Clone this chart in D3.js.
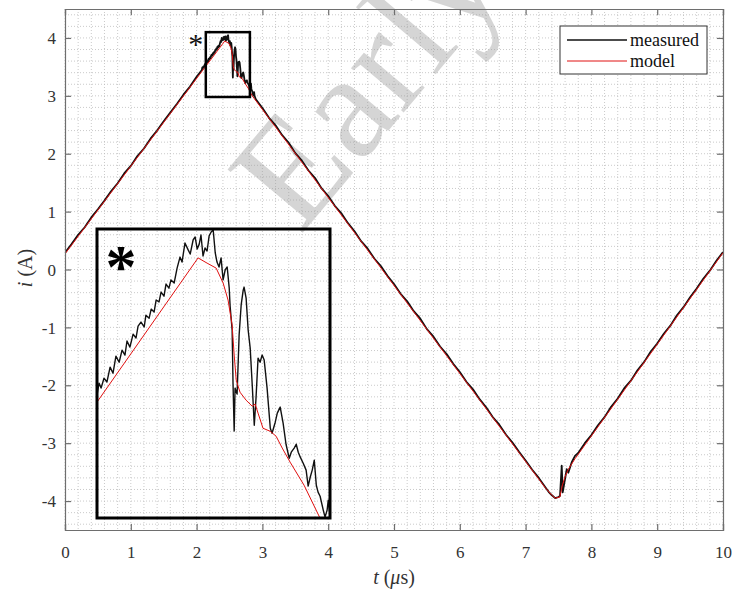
<!DOCTYPE html>
<html>
<head>
<meta charset="utf-8">
<script src="https://cdn.jsdelivr.net/npm/d3@7"></script>
<style>
  body { margin: 0; background: #fff; }
  svg { display: block; }
  svg text { font-family: 'Liberation Serif', 'Times New Roman', serif; }
</style>
</head>
<body>
<svg id="chart" width="733" height="591"></svg>
<script>
'use strict'

const xTicks = [0, 1, 2, 3, 4, 5, 6, 7, 8, 9, 10];
const yTicks = [-4, -3, -2, -1, 0, 1, 2, 3, 4];
const xDomain = [0, 10];
const yDomain = [-4.5, 4.5];

const seriesNames = ['measured', 'model'];
const seriesColors = ['#111111', '#e01010'];

// measured current, t in us, i in A
const measuredT = [
    0, 0.1, 0.2, 0.3, 0.4, 0.5, 0.6, 0.7, 0.8, 0.9, 1.0, 1.1, 1.2, 1.3, 1.4, 1.5, 1.6, 1.7, 1.8, 1.9, 2.0,
    2.080, 2.087, 2.094, 2.104, 2.114, 2.125, 2.135, 2.145, 2.156, 2.166, 2.176, 2.183, 2.193, 2.204, 2.214,
    2.221, 2.231, 2.242, 2.248, 2.259, 2.266, 2.276, 2.283, 2.293, 2.300, 2.310, 2.317, 2.327, 2.334, 2.345,
    2.355, 2.365, 2.372, 2.382, 2.393, 2.400, 2.410, 2.417, 2.424, 2.431, 2.437, 2.444, 2.451, 2.458, 2.465,
    2.472, 2.479, 2.486, 2.492, 2.499, 2.506, 2.513, 2.520, 2.527, 2.534, 2.537, 2.544, 2.547, 2.551, 2.554,
    2.561, 2.568, 2.575, 2.582, 2.585, 2.592, 2.599, 2.606, 2.613, 2.620, 2.626, 2.633, 2.640, 2.647, 2.654,
    2.664, 2.675, 2.681, 2.692, 2.699, 2.709, 2.719, 2.729, 2.740, 2.747, 2.757, 2.764, 2.771, 2.778, 2.788,
    2.798, 2.805, 2.812, 2.819, 2.826, 2.833, 2.839, 2.846, 2.857, 2.863, 2.870, 2.874, 2.881,
    2.9, 3.0, 3.1, 3.2, 3.3, 3.4, 3.5, 3.6, 3.7, 3.8, 3.9, 4.0, 4.1, 4.2, 4.3, 4.4, 4.5, 4.6, 4.7, 4.8, 4.9,
    5.0, 5.1, 5.2, 5.3, 5.4, 5.5, 5.6, 5.7, 5.8, 5.9, 6.0, 6.1, 6.2, 6.3, 6.4, 6.5, 6.6, 6.7, 6.8, 6.9,
    7.0, 7.1, 7.2, 7.3, 7.35, 7.4, 7.45, 7.5, 7.523, 7.549, 7.564, 7.599, 7.625, 7.649, 7.701, 7.751,
    7.8, 7.9, 8.0, 8.1, 8.2, 8.3, 8.4, 8.5, 8.6, 8.7, 8.8, 8.9, 9.0, 9.1, 9.2, 9.3, 9.4, 9.5, 9.6, 9.7,
    9.8, 9.9, 10.0
];
const measuredI = [
    0.29, 0.44, 0.60, 0.73, 0.90, 1.04, 1.19, 1.35, 1.49, 1.66, 1.79, 1.96, 2.09, 2.26, 2.40, 2.56, 2.71, 2.86, 3.02, 3.16, 3.33,
    3.446, 3.490, 3.472, 3.508, 3.494, 3.548, 3.526, 3.588, 3.566, 3.610, 3.592, 3.643, 3.621, 3.668, 3.654,
    3.697, 3.712, 3.694, 3.737, 3.726, 3.759, 3.748, 3.792, 3.785, 3.821, 3.806, 3.850, 3.835, 3.865, 3.854,
    3.908, 3.948, 3.930, 3.999, 3.974, 3.959, 4.010, 4.021, 3.977, 3.995, 4.028, 3.952, 3.981, 3.970, 4.025,
    4.039, 4.046, 3.963, 3.930, 3.912, 3.945, 3.865, 3.901, 3.912, 3.835, 3.770, 3.683, 3.490, 3.316, 3.472,
    3.450, 3.665, 3.774, 3.828, 3.839, 3.799, 3.683, 3.617, 3.483, 3.337, 3.436, 3.581, 3.566, 3.592, 3.574,
    3.472, 3.326, 3.308, 3.348, 3.381, 3.403, 3.345, 3.268, 3.217, 3.239, 3.254, 3.268, 3.239, 3.221, 3.199,
    3.174, 3.116, 3.148, 3.174, 3.210, 3.119, 3.094, 3.079, 3.028, 3.003, 3.028, 3.065, 2.999,
    2.94, 2.79, 2.62, 2.49, 2.32, 2.19, 2.01, 1.88, 1.71, 1.58, 1.40, 1.27, 1.10, 0.97, 0.80, 0.66, 0.49, 0.36, 0.19, 0.06, -0.11,
    -0.25, -0.42, -0.55, -0.72, -0.85, -1.03, -1.16, -1.33, -1.46, -1.63, -1.77, -1.94, -2.07, -2.24, -2.38, -2.55, -2.68, -2.85, -2.99, -3.15,
    -3.30, -3.46, -3.60, -3.76, -3.84, -3.90, -3.95, -3.93, -3.91, -3.39, -3.85, -3.62, -3.45, -3.51, -3.33, -3.22,
    -3.17, -3.00, -2.86, -2.69, -2.55, -2.37, -2.23, -2.05, -1.92, -1.74, -1.60, -1.42, -1.28, -1.11, -0.97, -0.79, -0.65, -0.48, -0.33, -0.16,
    -0.02, 0.15, 0.30
];

// model current
const modelT = [
    0, 2.080, 2.427, 2.458, 2.489, 2.513, 2.530, 2.544, 2.551, 2.558, 2.571, 2.592, 2.613, 2.623, 2.633,
    2.650, 2.675, 2.695, 2.716, 2.743, 2.791, 2.846, 7.30, 7.40, 7.45, 7.52, 7.56, 7.60, 7.65, 7.75, 10
];
const modelI = [
    0.27, 3.421, 3.945, 3.926, 3.908, 3.854, 3.792, 3.701, 3.592, 3.501, 3.457, 3.428, 3.406, 3.414, 3.381,
    3.326, 3.315, 3.297, 3.254, 3.203, 3.119, 2.999, -3.771, -3.90, -3.95, -3.93, -3.72, -3.58, -3.45, -3.27, 0.29
];

// zoom window drawn on the main axes, and range shown in the inset
const zoomBoxT = [2.14, 2.81];
const zoomBoxI = [2.98, 4.10];
const insetT = [2.08, 2.88];
const insetI = [3.0, 4.05];

const SERIF = 'Liberation Serif';

const margin = { left: 65, top: 9, right: 10, bottom: 61 };
const width = 733, height = 591;
const plotW = width - margin.left - margin.right;
const plotH = height - margin.top - margin.bottom;
const inset = { x: 97, y: 229, w: 233, h: 289 };

const svg = d3.select('#chart');

const x = d3.scaleLinear().domain(xDomain).range([margin.left, margin.left + plotW]);
const y = d3.scaleLinear().domain(yDomain).range([margin.top + plotH, margin.top]);

const measured = measuredT.map((t, k) => [t, measuredI[k]]);
const model = modelT.map((t, k) => [t, modelI[k]]);

// grid, dotted
let grid = svg.append('g');
grid.selectAll('.vx').data(x.ticks(50)).enter().append('line')
    .attr('x1', d => x(d)).attr('x2', d => x(d))
    .attr('y1', margin.top).attr('y2', margin.top + plotH)
    .attr('stroke', '#bdbdbd').attr('stroke-width', 0.8).attr('stroke-dasharray', '1,2');
grid.selectAll('.hy').data(y.ticks(45)).enter().append('line')
    .attr('y1', d => y(d)).attr('y2', d => y(d))
    .attr('x1', margin.left).attr('x2', margin.left + plotW)
    .attr('stroke', '#bdbdbd').attr('stroke-width', 0.8).attr('stroke-dasharray', '1,2');

// watermark
svg.append('text')
    .attr('transform', 'translate(300,236) rotate(-50)')
    .style('font-family', SERIF)
    .attr('font-size', 150)
    .attr('fill', '#9a9a9a')
    .attr('fill-opacity', 0.42)
    .text('Early');

svg.append('clipPath').attr('id', 'plot-clip').append('rect')
    .attr('x', margin.left).attr('y', margin.top).attr('width', plotW).attr('height', plotH);
svg.append('clipPath').attr('id', 'inset-clip').append('rect')
    .attr('x', inset.x).attr('y', inset.y).attr('width', inset.w).attr('height', inset.h);

const line = d3.line().x(d => x(d[0])).y(d => y(d[1]));

let plotG = svg.append('g').attr('clip-path', 'url(#plot-clip)');
plotG.append('path').datum(measured).attr('d', line)
    .attr('fill', 'none').attr('stroke', seriesColors[0]).attr('stroke-width', 1.8).attr('stroke-linejoin', 'round');
plotG.append('path').datum(model).attr('d', line)
    .attr('fill', 'none').attr('stroke', seriesColors[1]).attr('stroke-width', 1);

// axes box with inward ticks
const tickFmt = d => String(d);
let axB = svg.append('g').attr('transform', `translate(0,${margin.top + plotH})`)
    .call(d3.axisBottom(x).tickValues(xTicks).tickSize(-6).tickFormat(tickFmt));
let axT = svg.append('g').attr('transform', `translate(0,${margin.top})`)
    .call(d3.axisTop(x).tickValues(xTicks).tickSize(-6).tickFormat(''));
let axL = svg.append('g').attr('transform', `translate(${margin.left},0)`)
    .call(d3.axisLeft(y).tickValues(yTicks).tickSize(-6).tickFormat(tickFmt));
let axR = svg.append('g').attr('transform', `translate(${margin.left + plotW},0)`)
    .call(d3.axisRight(y).tickValues(yTicks).tickSize(-6).tickFormat(''));

for (let ax of [axB, axT, axL, axR]) {
    ax.attr('font-family', SERIF);
    ax.select('.domain').attr('stroke', '#6e6e6e').attr('stroke-width', 1.2);
    ax.selectAll('.tick line').attr('stroke', '#6e6e6e').attr('stroke-width', 1.2);
    ax.selectAll('.tick text').style('font-family', SERIF)
        .attr('font-size', 17).attr('fill', '#333');
}
axB.selectAll('.tick text').attr('y', 28).attr('dy', 0);
axL.selectAll('.tick text').attr('x', -9).attr('dy', '0.33em');

// zoom box and its asterisk
svg.append('rect')
    .attr('x', x(zoomBoxT[0])).attr('y', y(zoomBoxI[1]))
    .attr('width', x(zoomBoxT[1]) - x(zoomBoxT[0]))
    .attr('height', y(zoomBoxI[0]) - y(zoomBoxI[1]))
    .attr('fill', 'none').attr('stroke', '#000').attr('stroke-width', 2.5);
svg.append('text')
    .attr('x', x(zoomBoxT[0]) - 10).attr('y', y(zoomBoxI[1]) + 22)
    .attr('text-anchor', 'middle').attr('font-size', 30).attr('fill', '#111')
    .style('font-family', SERIF)
    .text('*');

// inset
const xi = d3.scaleLinear().domain(insetT).range([inset.x, inset.x + inset.w]);
const yi = d3.scaleLinear().domain(insetI).range([inset.y + inset.h, inset.y]);
const lineInset = d3.line().x(d => xi(d[0])).y(d => yi(d[1]));

let insetG = svg.append('g').attr('clip-path', 'url(#inset-clip)');
insetG.append('path').datum(measured).attr('d', lineInset)
    .attr('fill', 'none').attr('stroke', seriesColors[0]).attr('stroke-width', 1.4).attr('stroke-linejoin', 'round');
insetG.append('path').datum(model).attr('d', lineInset)
    .attr('fill', 'none').attr('stroke', seriesColors[1]).attr('stroke-width', 1);

svg.append('rect')
    .attr('x', inset.x).attr('y', inset.y).attr('width', inset.w).attr('height', inset.h)
    .attr('fill', 'none').attr('stroke', '#000').attr('stroke-width', 3);
svg.append('text')
    .attr('x', inset.x + 24).attr('y', inset.y + 58)
    .attr('text-anchor', 'middle').attr('font-size', 62).attr('font-weight', 'bold').attr('fill', '#000')
    .style('font-family', SERIF)
    .text('*');

// legend
let legend = svg.append('g');
legend.append('rect').attr('x', 560).attr('y', 26).attr('width', 147).attr('height', 48)
    .attr('fill', '#fff').attr('stroke', '#333').attr('stroke-width', 1);
seriesNames.forEach((name, k) => {
    let ly = 40 + k * 21;
    legend.append('line').attr('x1', 567).attr('x2', 627).attr('y1', ly).attr('y2', ly)
        .attr('stroke', seriesColors[k]).attr('stroke-width', k === 0 ? 1.3 : 1);
    legend.append('text').attr('x', 630).attr('y', ly + 6)
        .style('font-family', SERIF)
        .attr('font-size', 18).attr('fill', '#111').text(name);
});

// axis labels
let xl = svg.append('text').attr('x', 394).attr('y', 584).attr('text-anchor', 'middle')
    .style('font-family', SERIF)
    .attr('font-size', 20).attr('fill', '#333');
xl.append('tspan').attr('font-style', 'italic').text('t');
xl.append('tspan').text(' (');
xl.append('tspan').attr('font-style', 'italic').text('\u03bc');
xl.append('tspan').text('s)');

let yl = svg.append('text').attr('transform', 'translate(32,268) rotate(-90)').attr('text-anchor', 'middle')
    .style('font-family', SERIF)
    .attr('font-size', 20).attr('fill', '#333');
yl.append('tspan').attr('font-style', 'italic').text('i');
yl.append('tspan').text(' (A)');
</script>
</body>
</html>
